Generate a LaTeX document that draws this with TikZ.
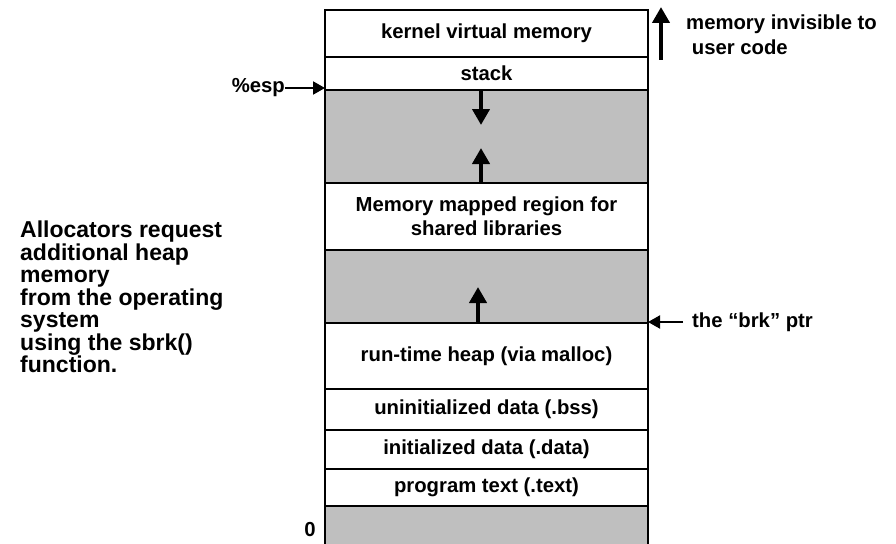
\documentclass[tikz,border=0pt]{standalone}
\usepackage{fontspec}
\setmainfont{Liberation Sans}
\usetikzlibrary{arrows.meta,positioning}

\tikzset{
  seg/.style={draw, line width=2.5pt, minimum width=323pt, inner sep=0pt, outer sep=0pt,
    align=center, font=\fontsize{20.3}{24}\selectfont\bfseries},
  gap/.style={seg, fill=gray!50},
  growarrow/.style={line width=4pt, -{Triangle[length=16pt,width=17pt]}},
  ptrarrow/.style={line width=2pt, -{Triangle[length=12pt,width=13pt]}},
  lbl/.style={inner sep=0pt, font=\fontsize{20.3}{25}\selectfont\bfseries}
}

\begin{document}
\begin{tikzpicture}[x=1pt,y=-1pt]

\path[use as bounding box] (0,0) rectangle (896,543);
\clip (0,0) rectangle (896,543);

% Speicherbereiche
\node[seg, minimum height=47pt, anchor=north] (kernel) at (486.5,10) {kernel virtual memory};
\node[seg, minimum height=33pt, below=0pt of kernel] (stack) {stack};
\node[gap, minimum height=93pt, below=0pt of stack] (free1) {};
\node[seg, minimum height=67pt, below=0pt of free1] (mmap) {Memory mapped region for\\shared libraries};
\node[gap, minimum height=73pt, below=0pt of mmap] (free2) {};
\node[seg, minimum height=66pt, below=0pt of free2] (heap) {run-time heap (via malloc)};
\node[seg, minimum height=41pt, below=0pt of heap] (bss) {uninitialized data (.bss)};
\node[seg, minimum height=39pt, below=0pt of bss] (data) {initialized data (.data)};
\node[seg, minimum height=37pt, below=0pt of data] (text) {program text (.text)};
\node[gap, minimum height=45pt, below=0pt of text] (free3) {};

% Wachstum
\coordinate (down) at (481,125);
\draw[growarrow] (stack.south -| down) -- (down);
\coordinate (up) at (481,148);
\draw[growarrow] (mmap.north -| up) -- (up);
\coordinate (upheap) at (478,287);
\draw[growarrow] (heap.north -| upheap) -- (upheap);

% Kernel
\coordinate (kbot) at (661,60);
\coordinate (ktop) at (661,7);
\draw[growarrow] (kbot) -- (ktop);
\node[lbl, anchor=north west, align=left] (invis) at (686,15) {memory invisible to\\\ user code};

% Zeiger
\node[lbl, anchor=east] (esp) at (285,88) {\%esp};
\draw[ptrarrow] (esp) -- (esp -| free1.west);
\node[lbl, anchor=west, inner xsep=9pt] (brk) at (683,322) {the “brk” ptr};
\draw[ptrarrow] (brk) -- (brk -| free2.east);

% Beschriftung
\node[lbl, anchor=base] (zero) at (310,536) {0};
\node[inner sep=0pt, anchor=north west, align=left, font=\fontsize{23}{22.5}\selectfont\bfseries] (alloc) at (20,221)
  {Allocators request\\additional heap\\memory\\from the operating\\system\\using the sbrk()\\function.};

\end{tikzpicture}
\end{document}
